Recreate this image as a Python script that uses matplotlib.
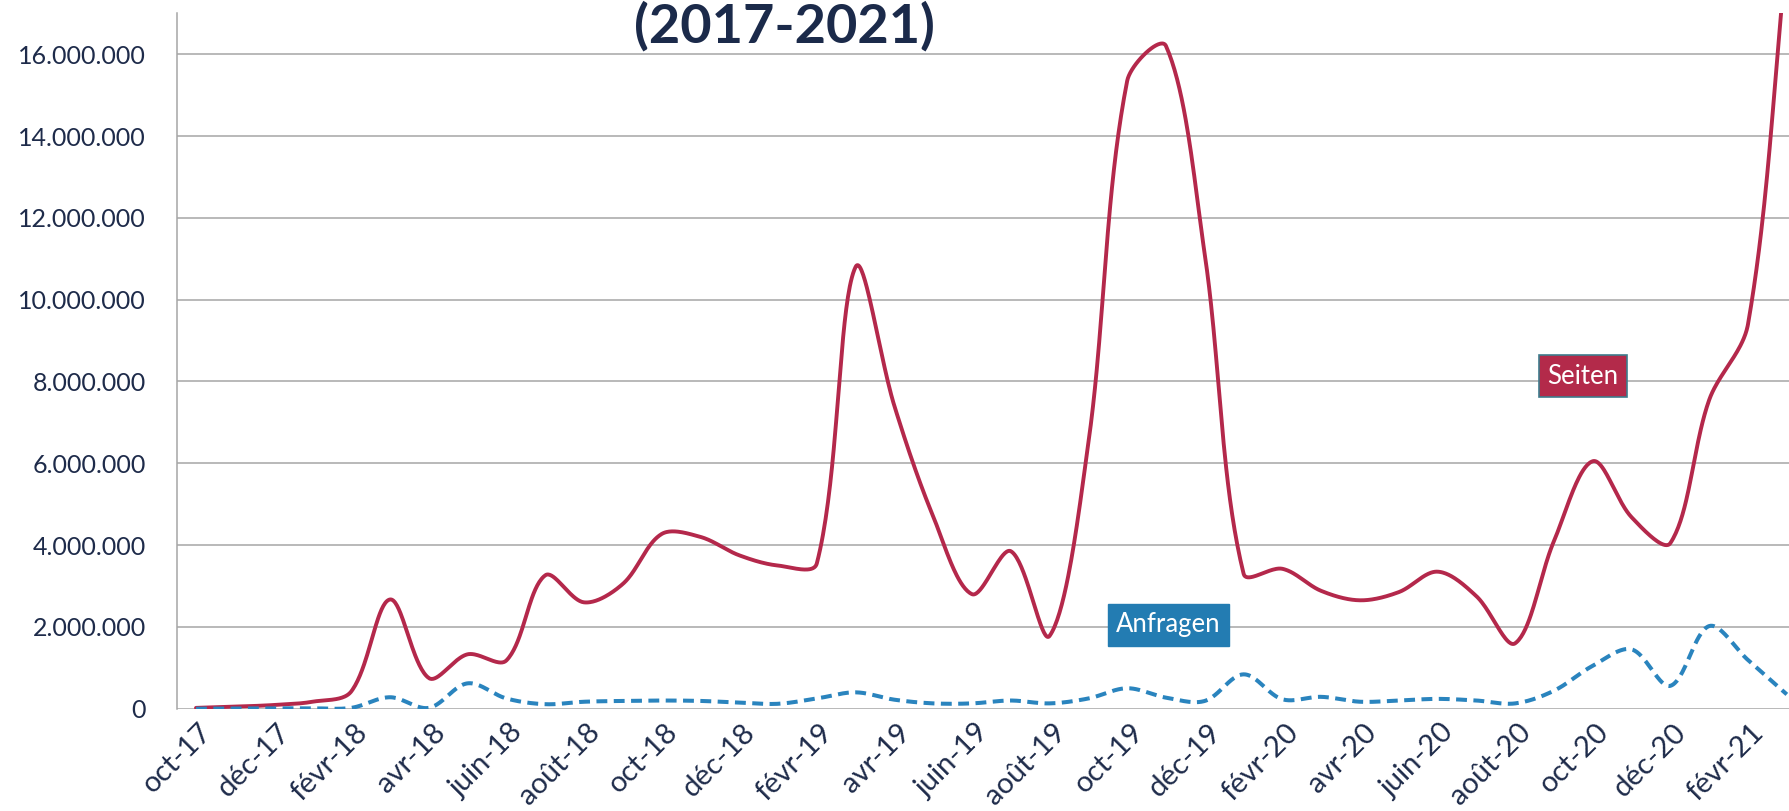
import numpy as np
import matplotlib
matplotlib.use("Agg")
import matplotlib.pyplot as plt
from matplotlib.ticker import FuncFormatter
import matplotlib.transforms as mtransforms

months = ['oct-17','nov-17','déc-17','janv-18','févr-18','mars-18','avr-18','mai-18','juin-18','juil-18',
          'août-18','sept-18','oct-18','nov-18','déc-18','janv-19','févr-19','mars-19','avr-19','mai-19',
          'juin-19','juil-19','août-19','sept-19','oct-19','nov-19','déc-19','janv-20','févr-20','mars-20',
          'avr-20','mai-20','juin-20','juil-20','août-20','sept-20','oct-20','nov-20','déc-20','janv-21',
          'févr-21','mars-21']

seiten = [0.02, 0.05, 0.09, 0.17, 0.42, 2.67, 0.75, 1.33, 1.18, 3.26,
          2.60, 3.05, 4.27, 4.20, 3.75, 3.50, 3.55, 10.80, 7.40, 4.70,
          2.80, 3.85, 1.78, 6.50, 15.35, 16.20, 11.10, 3.30, 3.42, 2.88,
          2.65, 2.85, 3.35, 2.75, 1.60, 4.10, 6.05, 4.68, 4.05, 7.55,
          9.40, 18.50]
seiten = [v * 1e6 for v in seiten]

anfragen = [0.0, 0.005, 0.01, 0.01, 0.02, 0.28, 0.02, 0.62, 0.25, 0.11,
            0.17, 0.19, 0.20, 0.19, 0.15, 0.12, 0.25, 0.40, 0.22, 0.13,
            0.13, 0.20, 0.13, 0.25, 0.50, 0.27, 0.19, 0.84, 0.23, 0.29,
            0.17, 0.20, 0.24, 0.20, 0.13, 0.44, 1.05, 1.45, 0.56, 2.02,
            1.19, 0.35]
anfragen = [v * 1e6 for v in anfragen]

y_ticks = [0, 2e6, 4e6, 6e6, 8e6, 10e6, 12e6, 14e6, 16e6]
title_text = "(2017-2021)"
series_names = ["Seiten", "Anfragen"]


def smooth(xs, ys, kx, ky, n=40):
    """Excel-like smoothed line: cubic Bezier whose control arms are scaled
    by the neighbouring segment lengths measured on screen (kx, ky = px per unit)."""
    P = np.column_stack([np.asarray(xs, float) * kx, np.asarray(ys, float) * ky])
    m = len(P)
    t = np.linspace(0, 1, n, endpoint=False)[:, None]
    out = []
    for i in range(m - 1):
        p1, p2 = P[i], P[i + 1]
        p0 = P[i - 1] if i > 0 else p1
        p3 = P[i + 2] if i + 2 < m else p2
        d01 = np.hypot(*(p1 - p0))
        d12 = np.hypot(*(p2 - p1))
        d23 = np.hypot(*(p3 - p2))
        f1 = d12 / (d01 + d12) / 3.0 if d01 + d12 > 0 else 0
        f2 = d12 / (d12 + d23) / 3.0 if d12 + d23 > 0 else 0
        c1 = p1 + (p2 - p0) * f1
        c2 = p2 - (p3 - p1) * f2
        seg = ((1 - t) ** 3) * p1 + 3 * ((1 - t) ** 2) * t * c1 + 3 * (1 - t) * t ** 2 * c2 + t ** 3 * p2
        out.append(seg)
    out.append(P[-1][None, :])
    out = np.vstack(out)
    return out[:, 0] / kx, out[:, 1] / ky


plt.rcParams['font.family'] = ['Lato', 'DejaVu Sans']

W, H = 1790, 811
fig = plt.figure(figsize=(W / 100, H / 100), dpi=100)
fig.patch.set_facecolor('white')

left_px, right_px = 176.6, 176.6 + 42 * 38.8
bottom_px, top_px = 708.7, 13.3
ax = fig.add_axes([left_px / W, 1 - bottom_px / H, (right_px - left_px) / W, (bottom_px - top_px) / H])

x = np.arange(len(months))
ax.set_xlim(-0.5, len(months) - 0.5)
ax.set_ylim(0, 17e6)

kx = (right_px - left_px) / len(months)
ky = (bottom_px - top_px) / 17e6

sx, sy = smooth(x, seiten, kx, ky)
ax.plot(sx, sy, color='#B4284B', lw=2.8, solid_capstyle='round', zorder=4)
axx, ay = smooth(x, anfragen, kx, ky)
ax.plot(axx, ay, color='#2A84BE', lw=2.9, dashes=(2.7, 1.6), dash_capstyle='butt', zorder=4)

grid_col = '#A6A6A6'
ax.set_yticks(y_ticks)
ax.yaxis.set_major_formatter(FuncFormatter(lambda v, p: f"{int(round(v)):,}".replace(",", ".")))
ax.grid(axis='y', color=grid_col, lw=1.1, zorder=1)
ax.set_axisbelow(True)
for s in ['top', 'right', 'bottom']:
    ax.spines[s].set_visible(False)
ax.spines['left'].set_color(grid_col)
ax.spines['left'].set_linewidth(1.1)

label_col = '#1E2B4A'
ax.tick_params(axis='y', length=0, pad=22, labelsize=18, labelcolor=label_col)
ax.tick_params(axis='x', length=0, pad=14, labelsize=21, labelcolor=label_col)

ax.set_xticks(x[::2])
ax.set_xticklabels(months[::2], rotation=45, ha='right', va='center', rotation_mode='anchor')
offset = mtransforms.ScaledTranslation(12 / 100, 0, fig.dpi_scale_trans)
for lbl in ax.get_xticklabels():
    lbl.set_transform(lbl.get_transform() + offset)

ax.text(35.75, 8.13e6, series_names[0], color='white', fontsize=18.5, ha='center', va='center', zorder=6,
        bbox=dict(boxstyle='square,pad=0.32', facecolor='#B32A4A', edgecolor='#3E7C8C', lw=1.2))
ax.text(25.07, 2.05e6, series_names[1], color='white', fontsize=18.5, ha='center', va='center', zorder=6,
        bbox=dict(boxstyle='square,pad=0.32', facecolor='#237CB2', edgecolor='#237CB2', lw=1.0))

fig.text(784 / W, 1 - 43 / H, title_text, fontsize=39, fontweight='bold', color='#1B2A4A',
         ha='center', va='baseline')

fig.savefig('out.png', dpi=100, facecolor='white')
